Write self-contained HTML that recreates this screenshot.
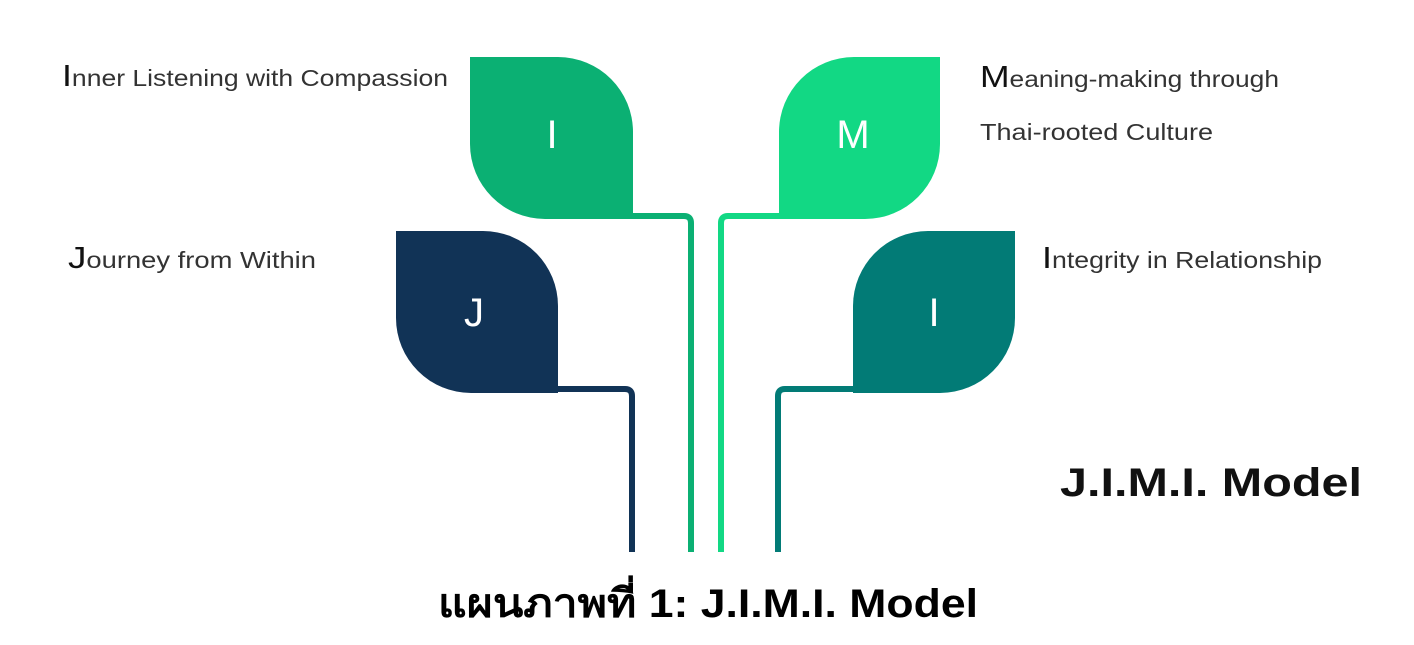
<!DOCTYPE html>
<html><head><meta charset="utf-8"><style>
html,body{margin:0;padding:0;background:#fff;width:1414px;height:645px;overflow:hidden}
svg{display:block}
</style></head><body>
<svg width="1414" height="645" viewBox="0 0 1414 645" xmlns="http://www.w3.org/2000/svg" font-family="Liberation Sans, sans-serif">
<g fill="none" stroke-width="6">
 <path d="M620 216 H684 Q691 216 691 223 V552" stroke="#0bb073"/>
 <path d="M790 216 H728 Q721 216 721 223 V552" stroke="#12d884"/>
 <path d="M545 389 H625 Q632 389 632 396 V552" stroke="#113356"/>
 <path d="M865 389 H785 Q778 389 778 396 V552" stroke="#027b76"/>
</g>
<path d="M470 57 H558 A75 75 0 0 1 633 132 V219 H545 A75 75 0 0 1 470 144 Z" fill="#0bb073"/>
<path d="M940 57 H854 A75 75 0 0 0 779 132 V219 H865 A75 75 0 0 0 940 144 Z" fill="#12d884"/>
<path d="M396 231 H483 A75 75 0 0 1 558 306 V393 H471 A75 75 0 0 1 396 318 Z" fill="#113356"/>
<path d="M1015 231 H928 A75 75 0 0 0 853 306 V393 H940 A75 75 0 0 0 1015 318 Z" fill="#027b76"/>
<g fill="#fff" font-size="40" text-anchor="middle">
 <text x="552" y="148">I</text>
 <text x="853" y="148">M</text>
 <text x="474" y="326">J</text>
 <text x="934" y="326">I</text>
</g>
<g fill="#333" font-size="23">
 <text x="62" y="86" textLength="386" lengthAdjust="spacingAndGlyphs"><tspan font-size="31" fill="#111">I</tspan>nner Listening with Compassion</text>
 <text x="68" y="268" textLength="248" lengthAdjust="spacingAndGlyphs"><tspan font-size="31" fill="#111">J</tspan>ourney from Within</text>
 <text x="980" y="87" textLength="299" lengthAdjust="spacingAndGlyphs"><tspan font-size="31" fill="#111">M</tspan>eaning-making through</text>
 <text x="980" y="140" textLength="233" lengthAdjust="spacingAndGlyphs">Thai-rooted Culture</text>
 <text x="1042" y="268" textLength="280" lengthAdjust="spacingAndGlyphs"><tspan font-size="31" fill="#111">I</tspan>ntegrity in Relationship</text>
</g>
<text x="1060" y="496" font-size="40" font-weight="bold" fill="#111" textLength="302" lengthAdjust="spacingAndGlyphs">J.I.M.I. Model</text>
<text x="438" y="617" font-size="40" font-weight="bold" fill="#000" font-family="Liberation Sans, Noto Sans CJK SC, DejaVu Sans, sans-serif" textLength="540" lengthAdjust="spacingAndGlyphs">แผนภาพที่ 1: J.I.M.I. Model</text>
</svg>
</body></html>
